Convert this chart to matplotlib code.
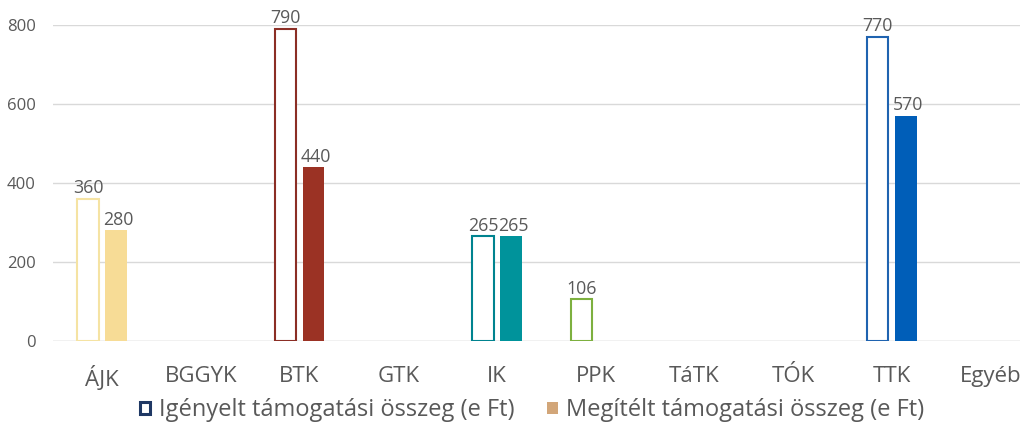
import matplotlib
matplotlib.use("Agg")
import matplotlib.pyplot as plt
from matplotlib.patches import Patch
import numpy as np

categories = ["ÁJK", "BGGYK", "BTK", "GTK", "IK", "PPK", "TáTK", "TÓK", "TTK", "Egyéb"]
requested = [360, None, 790, None, 265, 106, None, None, 770, None]
granted = [280, None, 440, None, 265, None, None, None, 570, None]
edge_colors = ["#F5E3A3", None, "#8B2E25", None, "#00838F", "#7DB03F", None, None, "#1F63B0", None]
fill_colors = ["#F7DC96", None, "#9B3224", None, "#00939B", "#7DB03F", None, None, "#005EB8", None]
legend_labels = ["Igényelt támogatási összeg (e Ft)", "Megítélt támogatási összeg (e Ft)"]

plt.rcParams['font.family'] = ['Open Sans', 'DejaVu Sans']

fig = plt.figure(figsize=(10.35, 4.25), dpi=100)
ax = fig.add_axes([52.6 / 1035, 84 / 425, (1020 - 52.6) / 1035, 316 / 425])

x = np.arange(len(categories))
w = 0.215
off = 0.142
text_c = "#595959"

for i in range(len(categories)):
    if requested[i] is not None:
        ax.bar(x[i] - off, requested[i], width=w, facecolor="white",
               edgecolor=edge_colors[i], linewidth=1.5, zorder=3)
        ax.text(x[i] - off, requested[i] + 4, f"{requested[i]}", ha="center", va="bottom",
                fontsize=12.8, color=text_c, clip_on=False, zorder=4)
    if granted[i] is not None:
        ax.bar(x[i] + off, granted[i], width=w, facecolor=fill_colors[i],
               edgecolor="none", zorder=3)
        ax.text(x[i] + off + 0.02, granted[i] + 4, f"{granted[i]}", ha="center", va="bottom",
                fontsize=12.8, color=text_c, clip_on=False, zorder=4)

ax.set_xlim(-0.5, 9.5 - (1040 - 1020) / 98.75)
ax.set_ylim(0, 800)
ax.set_yticks([0, 200, 400, 600, 800])
ax.set_xticks(x)
ax.set_xticklabels(categories, fontsize=16, color=text_c)
ax.tick_params(axis="y", labelsize=12, colors=text_c, length=0, pad=12)
ax.tick_params(axis="x", length=0, pad=18)
ax.grid(axis="y", color="#D9D9D9", linewidth=1, zorder=0)
for s in ax.spines.values():
    s.set_visible(False)
ax.axhline(0, color="#D9D9D9", linewidth=1, zorder=1)

handles = [Patch(facecolor="white", edgecolor="#1F3864", linewidth=2.2),
           Patch(facecolor="#D2A679", edgecolor="none")]
leg = fig.legend(handles, legend_labels, loc="center", bbox_to_anchor=(532 / 1035, 1 - 410 / 425),
                 ncol=2, frameon=False, fontsize=17, handlelength=0.45, handleheight=0.4,
                 handletextpad=0.35, columnspacing=1.4)
for t in leg.get_texts():
    t.set_color(text_c)

fig.savefig("out.png", dpi=100)
